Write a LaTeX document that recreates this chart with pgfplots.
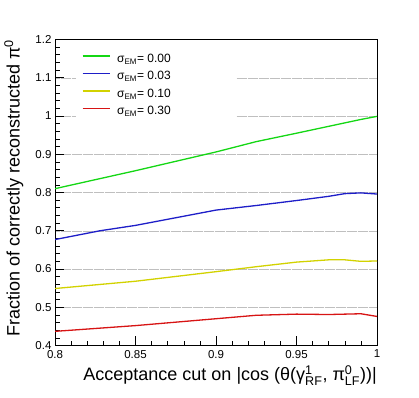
\documentclass[border=0pt]{standalone}
\usepackage{fontspec}
\setmainfont{Liberation Sans}
\usepackage{amsmath}
\usepackage{pgfplots}
\pgfplotsset{compat=1.18}
\definecolor{cgreen}{RGB}{20,215,20}
\definecolor{cblue}{RGB}{30,30,200}
\definecolor{cyellow}{RGB}{210,210,0}
\definecolor{cred}{RGB}{215,20,20}
\newcommand{\supsub}[2]{\ensuremath{{}^{\text{#1}}_{\text{#2}}}}
\newcommand{\sEM}{σ\ensuremath{{}_{\text{EM}}}}
\begin{document}
\begin{tikzpicture}
\begin{axis}[
  scale only axis, width=322pt, height=306pt,
  xmin=0.8, xmax=1.0, ymin=0.4, ymax=1.2,
  xtick={0.8,0.85,0.9,0.95,1.0}, xticklabels={0.8,0.85,0.9,0.95,1},
  ytick={0.4,0.5,0.6,0.7,0.8,0.9,1.0,1.1,1.2},
  yticklabels={0.4,0.5,0.6,0.7,0.8,0.9,1,1.1,1.2},
  minor x tick num=4, minor y tick num=4,
  tick align=inside, xtick pos=bottom, ytick pos=left,
  major tick length=9pt, minor tick length=4.5pt,
  tick style={black, line width=0.6pt},
  axis line style={line width=0.7pt},
  ymajorgrids, major grid style={gray!50, line width=0.45pt, dash pattern=on 0.4pt off 0.7pt},
  tick label style={font=\fontsize{11.5}{12}\selectfont},
  xticklabel style={yshift=-1pt},
  xlabel={Acceptance cut on |cos (θ(γ\supsub{1}{RF}, π\supsub{0}{LF}))|},
  ylabel={Fraction of correctly reconstructed π\ensuremath{{}^{\text{0}}}},
  xlabel style={at={(axis description cs:1,-0.1144)}, anchor=base east, font=\fontsize{18}{19}\selectfont, inner sep=0pt},
  ylabel style={at={(axis description cs:-0.1102,1)}, anchor=base east, font=\fontsize{18}{19}\selectfont, inner sep=0pt},
  legend style={at={(axis description cs:0.065,0.968)}, anchor=north west, draw=none, fill=white,
    font=\fontsize{12}{12}\selectfont, inner xsep=6pt, inner ysep=4pt, row sep=5.5pt, column sep=7pt,
    nodes={inner sep=0pt, text height=9pt, text depth=3pt}},
  legend cell align=left,
  legend image code/.code={\draw[#1, line width=1.1pt] (0pt,3.5pt) -- (27pt,3.5pt);},
  every axis plot/.append style={line width=1.3pt},
]
\addplot[cgreen] coordinates {(0.8,0.810) (0.85,0.857) (0.9,0.906) (0.925,0.933) (0.95,0.955) (0.97,0.973) (0.98,0.982) (0.99,0.991) (1.0,0.999)};
\addlegendentry{\makebox[113pt][l]{\sEM= 0.00}}
\addplot[cblue] coordinates {(0.8,0.677) (0.828,0.700) (0.85,0.714) (0.9,0.754) (0.925,0.766) (0.95,0.779) (0.97,0.790) (0.98,0.797) (0.99,0.799) (1.0,0.796)};
\addlegendentry{\sEM= 0.03}
\addplot[cyellow] coordinates {(0.8,0.549) (0.85,0.568) (0.9,0.593) (0.925,0.606) (0.95,0.618) (0.97,0.624) (0.98,0.624) (0.99,0.620) (1.0,0.621)};
\addlegendentry{\sEM= 0.10}
\addplot[cred] coordinates {(0.8,0.437) (0.85,0.452) (0.9,0.470) (0.925,0.479) (0.95,0.482) (0.97,0.481) (0.98,0.482) (0.99,0.483) (1.0,0.476)};
\addlegendentry{\sEM= 0.30}
\end{axis}
\path[use as bounding box] ([xshift=-55pt,yshift=-52pt]current axis.south west) rectangle ([xshift=42pt,yshift=39.5pt]current axis.north east);
\end{tikzpicture}
\end{document}
